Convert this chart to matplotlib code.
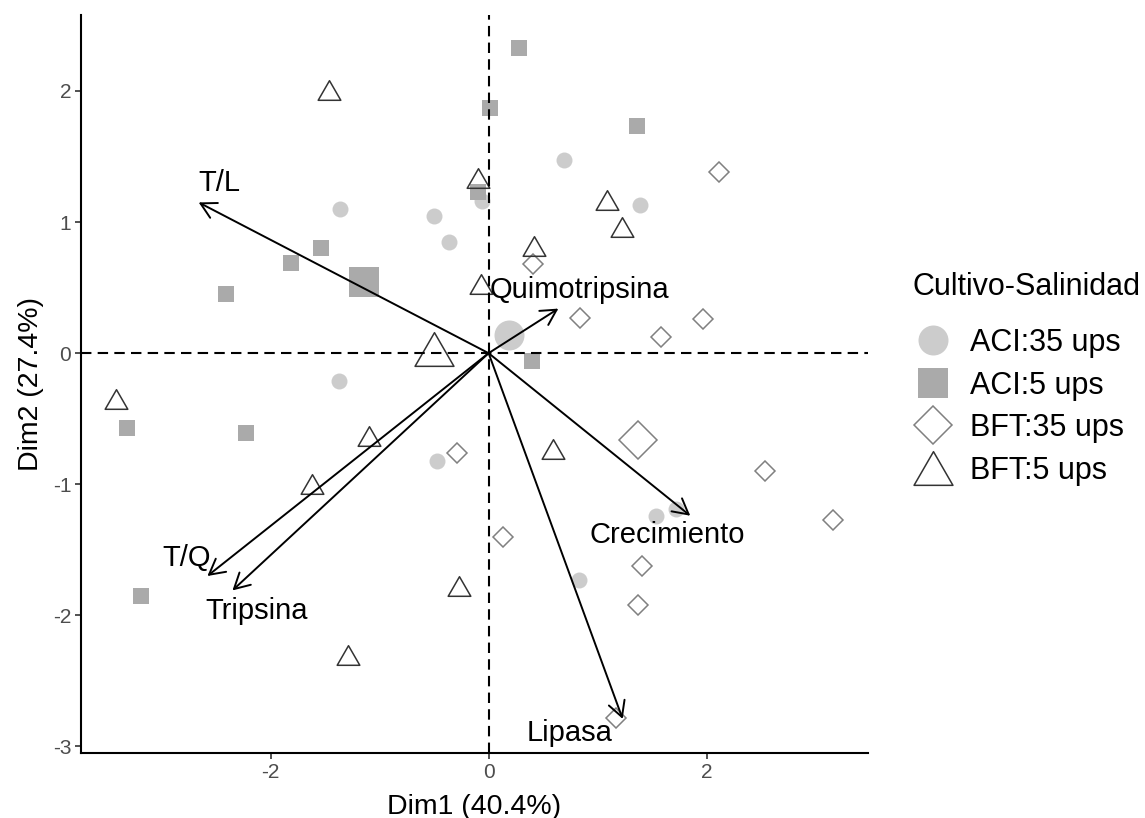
import matplotlib.pyplot as plt
from matplotlib.lines import Line2D
from matplotlib.path import Path

plt.rcParams["font.family"] = ["Liberation Sans", "DejaVu Sans"]
plt.rcParams["axes.unicode_minus"] = False

# individuals, one pair of lists per group
aci35_x = [0.69, 1.39, -1.36, -0.50, -0.36, -0.06, -1.37, -0.47, 1.54, 1.72, 0.83]
aci35_y = [1.47, 1.13, 1.10, 1.05, 0.85, 1.16, -0.21, -0.82, -1.24, -1.19, -1.73]

aci5_x = [0.28, 0.01, 1.36, -0.10, -1.54, -1.81, -2.41, 0.40, -3.32, -2.23, -3.19]
aci5_y = [2.33, 1.87, 1.73, 1.23, 0.80, 0.69, 0.45, -0.06, -0.57, -0.61, -1.85]

bft35_x = [2.11, 0.41, 0.84, 1.58, 1.97, -0.29, 2.54, 3.16, 0.13, 1.41, 1.37, 1.17]
bft35_y = [1.38, 0.68, 0.27, 0.12, 0.26, -0.76, -0.90, -1.27, -1.40, -1.62, -1.92, -2.78]

bft5_x = [-1.46, -0.10, 1.09, 1.22, 0.42, -0.07, -3.42, -1.10, -1.62, 0.59, -0.27, -1.29]
bft5_y = [2.01, 1.34, 1.17, 0.96, 0.82, 0.53, -0.35, -0.63, -1.00, -0.73, -1.78, -2.30]

# group means (ACI:35, ACI:5, BFT:35, BFT:5)
group_names = ["ACI:35 ups", "ACI:5 ups", "BFT:35 ups", "BFT:5 ups"]
mean_x = [0.19, -1.14, 1.37, -0.50]
mean_y = [0.14, 0.54, -0.66, 0.03]

# variable loadings
var_names = ["T/L", "Quimotripsina", "T/Q", "Tripsina", "Crecimiento", "Lipasa"]
var_x = [-2.66, 0.64, -2.58, -2.35, 1.85, 1.23]
var_y = [1.15, 0.34, -1.70, -1.81, -1.24, -2.79]
lab_x = [-2.47, 0.83, -2.77, -2.13, 1.64, 0.74]
lab_y = [1.30, 0.48, -1.56, -1.97, -1.39, -2.90]

# open equilateral triangle
tri = Path([(-1, -0.866), (1, -0.866), (0, 0.866), (-1, -0.866)], closed=True)

styles = [
    dict(marker="o", color="#cccccc", mec="none", mew=0),
    dict(marker="s", color="#aaaaaa", mec="none", mew=0),
    dict(marker="D", color="none", mec="#808080", mew=1.1),
    dict(marker=tri, color="none", mec="#333333", mew=1.1),
]
small = [11.5, 11.0, 10.0, 16.3]
big = [21.6, 21.0, 19.0, 28.0]

fig = plt.figure(figsize=(11.45, 8.18), dpi=100)
ax = fig.add_axes([0.0707, 0.0795, 0.6873, 0.9022])

groups = [(aci35_x, aci35_y), (aci5_x, aci5_y), (bft35_x, bft35_y), (bft5_x, bft5_y)]
for (gx, gy), st, ms in zip(groups, styles, small):
    ax.plot(gx, gy, ls="none", marker=st["marker"], ms=ms,
            mfc=st["color"], mec=st["mec"], mew=st["mew"], zorder=2)

for i, st in enumerate(styles):
    ax.plot(mean_x[i], mean_y[i], ls="none", marker=st["marker"], ms=big[i],
            mfc=st["color"], mec=st["mec"], mew=st["mew"], zorder=2)

ax.axhline(0, color="black", lw=1.5, ls=(0, (5, 3)), zorder=3)
ax.axvline(0, color="black", lw=1.5, ls=(0, (5, 3)), zorder=3)

for name, vx, vy, tx, ty in zip(var_names, var_x, var_y, lab_x, lab_y):
    ax.annotate(
        "",
        xy=(vx, vy),
        xytext=(0, 0),
        arrowprops=dict(
            arrowstyle="->,head_length=0.55,head_width=0.3",
            lw=1.4,
            color="black",
            shrinkA=0,
            shrinkB=0,
            mutation_scale=20
        ),
        zorder=4
    )
    ax.text(tx, ty, name, ha="center", va="center", fontsize=21, zorder=5)

ax.set_xlim(-3.74, 3.48)
ax.set_ylim(-3.05, 2.58)
ax.set_xticks([-2, 0, 2])
ax.set_yticks([-3, -2, -1, 0, 1, 2])
ax.tick_params(colors="#333333", labelcolor="#4d4d4d", labelsize=15,
               length=4, width=1.2, pad=3)

for side in ["top", "right"]:
    ax.spines[side].set_visible(False)
for side in ["left", "bottom"]:
    ax.spines[side].set_linewidth(1.5)

ax.set_xlabel("Dim1 (40.4%)", fontsize=20.5, labelpad=9)
ax.set_ylabel("Dim2 (27.4%)", fontsize=20.5, labelpad=6)

# legend: title placed on its own so the gap under it can be set
fig.text(913 / 1145, 1 - 287 / 818, "Cultivo-Salinidad",
         ha="left", va="center", fontsize=22)

handles = [
    Line2D([], [], ls="none", marker=st["marker"], ms=b,
           mfc=st["color"], mec=st["mec"], mew=st["mew"])
    for st, b in zip(styles, big)
]
leg = fig.legend(
    handles,
    group_names,
    loc="upper left",
    bbox_to_anchor=(918 / 1145, 1 - 328 / 818),
    frameon=False,
    fontsize=22,
    borderpad=0,
    borderaxespad=0,
    labelspacing=0.41,
    handletextpad=0.7,
    handlelength=1.0
)

fig.savefig("out.png", dpi=100)
